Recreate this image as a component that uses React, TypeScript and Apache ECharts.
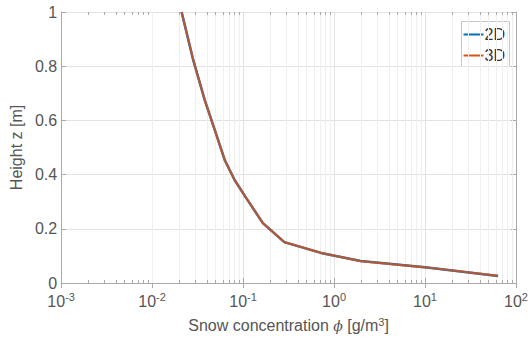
import React, { useEffect, useRef } from "react";
import * as echarts from "echarts";

const heights = [1.0, 0.9, 0.823, 0.675, 0.565, 0.454, 0.38, 0.314, 0.221, 0.151, 0.111, 0.081, 0.058, 0.026];
const conc2D = [0.0211, 0.0249, 0.0283, 0.0379, 0.0488, 0.0628, 0.0807, 0.108, 0.165, 0.284, 0.718, 1.96, 10, 63.5];
const conc3D = [0.0211, 0.0249, 0.0283, 0.0379, 0.0488, 0.0628, 0.0807, 0.108, 0.165, 0.284, 0.718, 1.96, 10, 63.5];
const seriesNames = ["2D", "3D"];
const seriesColors = ["#0072BD", "#D95319"];
const yTicks = [0, 0.2, 0.4, 0.6, 0.8, 1];

const FONT = "Liberation Sans";
const TXT = "#555555";
const FRAME = "#aaaaaa";

export default function App() {
  const ref = useRef<HTMLDivElement>(null);
  useEffect(() => {
    const chart = echarts.init(ref.current!, undefined, { renderer: "svg" });
    const minorVals: number[] = [];
    for (let d = -3; d < 2; d++) {
      for (let k = 2; k <= 9; k++) minorVals.push(k * Math.pow(10, d));
    }
    const minorGrid = minorVals.map((v) => ({ xAxis: v }));
    const minorTicksBottom = minorVals.map((v) => [
      { coord: [v, 0] },
      { coord: [v, 0.011] },
    ]);
    const minorTicksTop = minorVals.map((v) => [
      { coord: [v, 1] },
      { coord: [v, 0.989] },
    ]);
    const tickCommon = { show: true, inside: true, length: 5, lineStyle: { color: FRAME } };

    const legendItems: any[] = [];
    seriesNames.forEach((n, i) => {
      const cy = 13 + i * 21;
      legendItems.push({
        type: "line",
        shape: { x1: 2, y1: cy, x2: 22, y2: cy },
        style: { stroke: seriesColors[i], lineWidth: 2 },
      });
      legendItems.push({
        type: "text",
        x: 23,
        y: cy,
        style: {
          text: n,
          fontFamily: FONT,
          fontSize: 16,
          fill: "#333333",
          textVerticalAlign: "middle",
          verticalAlign: "middle",
        },
      });
    });

    chart.setOption({
      animation: false,
      backgroundColor: "#ffffff",
      grid: { left: 59, right: 15, top: 12, bottom: 64, containLabel: false },
      graphic: [
        {
          type: "group",
          left: 461,
          top: 21,
          z: 100,
          children: [
            {
              type: "rect",
              shape: { x: 0, y: 0, width: 48, height: 45 },
              style: { fill: "#ffffff", stroke: "#c8c8c8", lineWidth: 1 },
            },
            ...legendItems,
          ],
        },
      ],
      xAxis: [
        {
          type: "log",
          logBase: 10,
          min: 0.001,
          max: 100,
          name: "{a|Snow concentration }{phi|ϕ}{a| [g/m}{sup|3}{a|]}",
          nameLocation: "middle",
          nameGap: 33,
          nameTextStyle: {
            rich: {
              a: { fontFamily: FONT, fontSize: 16, color: TXT },
              phi: { fontFamily: "DejaVu Serif", fontStyle: "italic", fontSize: 14, color: TXT },
              sup: { fontFamily: FONT, fontSize: 11, color: TXT, verticalAlign: "top", padding: [0, 0, 8, 0] },
            },
          },
          axisLine: { show: true, lineStyle: { color: FRAME, width: 1 } },
          axisTick: tickCommon,
          axisLabel: {
            margin: 8,
            formatter: (v: number) => {
              const e = Math.round(Math.log10(v));
              return "{b|10}{e|" + e + "}";
            },
            rich: {
              b: { fontFamily: FONT, fontSize: 16, color: TXT },
              e: { fontFamily: FONT, fontSize: 11, color: TXT, verticalAlign: "top", padding: [0, 0, 9, 0] },
            },
          },
          splitLine: { show: true, lineStyle: { color: "#e2e2e2", width: 1 } },
        },
        {
          type: "log",
          logBase: 10,
          min: 0.001,
          max: 100,
          position: "top",
          axisLine: { show: true, lineStyle: { color: FRAME, width: 1 } },
          axisTick: tickCommon,
          axisLabel: { show: false },
          splitLine: { show: false },
        },
      ],
      yAxis: [
        {
          type: "value",
          min: 0,
          max: 1,
          interval: 0.2,
          name: "Height z [m]",
          nameLocation: "middle",
          nameGap: 32,
          nameTextStyle: { fontFamily: FONT, fontSize: 16, color: TXT },
          axisLine: { show: true, lineStyle: { color: FRAME } },
          axisTick: tickCommon,
          axisLabel: {
            fontFamily: FONT,
            fontSize: 16,
            color: TXT,
            margin: 4,
            formatter: (v: number) => {
              const t = yTicks.find((y) => Math.abs(y - v) < 1e-9);
              return t === undefined ? "" : String(+t.toFixed(1));
            },
          },
          splitLine: { show: true, lineStyle: { color: "#e2e2e2", width: 1 } },
        },
        {
          type: "value",
          min: 0,
          max: 1,
          interval: 0.2,
          position: "right",
          axisLine: { show: true, lineStyle: { color: FRAME } },
          axisTick: tickCommon,
          axisLabel: { show: false },
          splitLine: { show: false },
        },
      ],
      series: [
        {
          name: "grid-minor",
          type: "line",
          data: [],
          silent: true,
          markLine: {
            silent: true,
            symbol: "none",
            label: { show: false },
            lineStyle: { color: "#efefef", width: 1, type: "solid" },
            data: minorGrid,
          },
        },
        {
          name: "ticks-minor",
          type: "line",
          data: [],
          silent: true,
          markLine: {
            silent: true,
            symbol: "none",
            label: { show: false },
            lineStyle: { color: FRAME, width: 1, type: "solid" },
            data: [...minorTicksBottom, ...minorTicksTop],
          },
        },
        {
          name: seriesNames[0],
          type: "line",
          data: conc2D.map((c, i) => [c, heights[i]]),
          showSymbol: false,
          symbol: "none",
          smooth: false,
          color: seriesColors[0],
          lineStyle: { color: seriesColors[0], width: 2.5 },
          z: 5,
        },
        {
          name: seriesNames[1],
          type: "line",
          data: conc3D.map((c, i) => [c, heights[i]]),
          showSymbol: false,
          symbol: "none",
          smooth: false,
          color: seriesColors[1],
          lineStyle: { color: seriesColors[1], width: 2.2, opacity: 0.82 },
          z: 6,
        },
      ],
    });
    return () => chart.dispose();
  }, []);
  return <div ref={ref} style={{ width: 531, height: 347, position: "absolute", left: 0, top: 0 }} />;
}
